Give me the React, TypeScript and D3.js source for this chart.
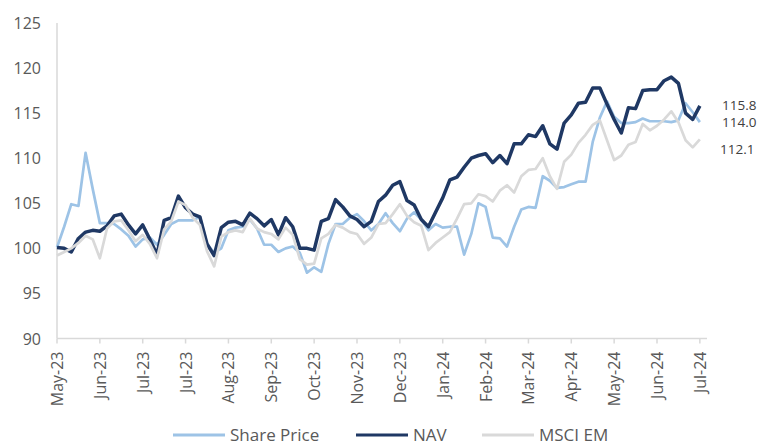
import React from "react";
import * as d3 from "d3";

const width = 758;
const height = 444;
const margin = { top: 23, right: 49, bottom: 106, left: 57 };

// one reading every 5 days, starting 2 May 2023
const startDate = new Date(2023, 4, 2);
const stepDays = 5;
const axisDays = 455;
const tickEveryDays = 30;

const tickLabels = [
  "May-23", "Jun-23", "Jul-23", "Jul-23", "Aug-23", "Sep-23", "Oct-23", "Nov-23",
  "Dec-23", "Jan-24", "Feb-24", "Mar-24", "Apr-24", "May-24", "Jun-24", "Jul-24"
];
const yTicks = [90, 95, 100, 105, 110, 115, 120, 125];

const sharePrice = [
  100.1, 102.4, 104.9, 104.7, 110.6, 106.6, 102.8, 102.8, 102.7, 102.1,
  101.4, 100.2, 101.0, 101.2, 100.4, 101.5, 102.7, 103.1, 103.1, 103.1,
  103.5, 100.5, 99.5, 100.0, 102.0, 102.3, 102.4, 103.2, 102.2, 100.4,
  100.4, 99.6, 100.0, 100.2, 99.5, 97.3, 97.9, 97.4, 100.5, 102.7,
  102.7, 103.4, 103.8, 103.0, 102.0, 102.7, 103.9, 102.8, 101.9, 103.3,
  104.0, 103.2, 102.0, 102.7, 102.3, 102.4, 102.4, 99.3, 101.6, 105.0,
  104.6, 101.2, 101.1, 100.2, 102.4, 104.3, 104.6, 104.5, 108.0, 107.5,
  106.7, 106.8, 107.1, 107.4, 107.4, 111.8, 114.5, 116.3, 114.6, 113.9,
  113.9, 114.0, 114.4, 114.1, 114.1, 114.1, 114.0, 114.2, 116.1, 115.1,
  114.0
];

const nav = [
  100.1, 100.0, 99.6, 101.1, 101.8, 102.0, 101.9, 102.5, 103.6, 103.8,
  102.6, 101.6, 102.6, 101.0, 99.3, 103.1, 103.4, 105.8, 104.5, 103.8,
  103.5, 100.5, 99.2, 102.3, 102.9, 103.0, 102.6, 103.9, 103.3, 102.5,
  103.2, 101.5, 103.4, 102.4, 100.0, 100.0, 99.8, 103.0, 103.3, 105.4,
  104.6, 103.6, 103.2, 102.4, 103.0, 105.2, 105.9, 107.0, 107.4, 105.3,
  104.8, 103.2, 102.4, 104.0, 105.6, 107.6, 107.9, 109.0, 110.0, 110.3,
  110.5, 109.5, 110.3, 109.4, 111.6, 111.6, 112.6, 112.4, 113.6, 111.6,
  111.0, 113.9, 114.8, 116.1, 116.2, 117.8, 117.8, 116.0, 114.3, 112.8,
  115.6, 115.5, 117.5, 117.6, 117.6, 118.6, 119.0, 118.3, 115.0, 114.3,
  115.8
];

const msciEm = [
  99.2, 99.6, 100.0, 100.6, 101.4, 101.0, 98.9, 102.2, 103.0, 103.1,
  102.0, 100.8, 101.5, 100.5, 98.9, 102.1, 103.0, 105.2, 104.8, 103.4,
  102.6, 99.7, 98.0, 101.3, 101.8, 102.0, 101.8, 103.3, 102.2, 101.8,
  101.6, 101.0, 102.3, 101.5, 98.8, 98.2, 98.3, 101.1, 101.6, 102.6,
  102.3, 101.8, 101.6, 100.5, 101.2, 102.7, 102.8, 103.8, 104.9, 103.6,
  102.9, 102.5, 99.8, 100.6, 101.2, 101.8, 103.3, 104.9, 105.0, 106.0,
  105.8, 105.2, 106.4, 107.0, 106.2, 108.0, 108.7, 108.8, 110.0, 108.0,
  106.6, 109.6, 110.4, 111.7, 112.6, 113.7, 114.2, 112.0, 109.8, 110.3,
  111.5, 111.8, 113.8, 113.1, 113.6, 114.3, 115.2, 114.0, 112.0, 111.2,
  112.1
];

const series = [
  { name: "Share Price", values: sharePrice, color: "#9dc3e6", width: 2.7, labelDy: 5 },
  { name: "NAV", values: nav, color: "#1f3864", width: 3.5, labelDy: 4 },
  { name: "MSCI EM", values: msciEm, color: "#d9d9d9", width: 2.7, labelDy: 15 }
];

const font = "'Open Sans', sans-serif";
const textColor = "#595959";

export default function App() {
  const x = d3
    .scaleTime()
    .domain([startDate, d3.timeDay.offset(startDate, axisDays)])
    .range([margin.left, width - margin.right - 2]);
  const y = d3
    .scaleLinear()
    .domain([90, 125])
    .range([height - margin.bottom + 0.5, margin.top]);

  const dateAt = (i: number) => d3.timeDay.offset(startDate, i * stepDays);
  const line = d3
    .line<number>()
    .x((_, i) => x(dateAt(i)))
    .y((d) => y(d));

  const baseY = y(90);
  const legendX = [173, 356, 482];

  return (
    <svg
      width={width}
      height={height}
      style={{ position: "absolute", left: 0, top: 0, background: "#fff" }}
    >
      {/* axes */}
      <line x1={x.range()[0]} x2={x.range()[0]} y1={y(125)} y2={baseY} stroke="#d9d9d9" strokeWidth={1.5} />
      <line x1={x.range()[0]} x2={x.range()[1]} y1={baseY} y2={baseY} stroke="#d9d9d9" strokeWidth={1.5} />
      {yTicks.map((t) => (
        <text
          key={t}
          x={41}
          y={y(t)}
          textAnchor="end"
          dominantBaseline="central"
          fontFamily={font}
          fontSize={16}
          fill={textColor}
        >
          {t}
        </text>
      ))}
      {tickLabels.map((lab, i) => {
        const tx = x(d3.timeDay.offset(startDate, i * tickEveryDays));
        return (
          <g key={i}>
            <line x1={tx} x2={tx} y1={baseY} y2={baseY + 5} stroke="#d9d9d9" strokeWidth={1.5} />
            <text
              transform={`translate(${tx},${baseY + 13}) rotate(-90)`}
              textAnchor="end"
              dominantBaseline="central"
              fontFamily={font}
              fontSize={16}
              fill={textColor}
            >
              {lab}
            </text>
          </g>
        );
      })}

      {/* series */}
      {series.map((s) => (
        <path
          key={s.name}
          d={line(s.values) || ""}
          fill="none"
          stroke={s.color}
          strokeWidth={s.width}
          strokeLinejoin="round"
        />
      ))}

      {/* end labels */}
      {series.map((s) => {
        const last = s.values[s.values.length - 1];
        return (
          <text
            key={s.name}
            x={s.name === "MSCI EM" ? 720 : 722}
            y={y(last) + s.labelDy}
            fontFamily={font}
            fontSize={13.5}
            fill="#404040"
          >
            {last.toFixed(1)}
          </text>
        );
      })}

      {/* legend */}
      {series.map((s, i) => (
        <g key={s.name} transform={`translate(${legendX[i]},434)`}>
          <line x1={0} x2={52} y1={1} y2={1} stroke={s.color} strokeWidth={3} />
          <text x={57} y={0} dominantBaseline="central" fontFamily={font} fontSize={17} fill={textColor}>
            {s.name}
          </text>
        </g>
      ))}
    </svg>
  );
}
